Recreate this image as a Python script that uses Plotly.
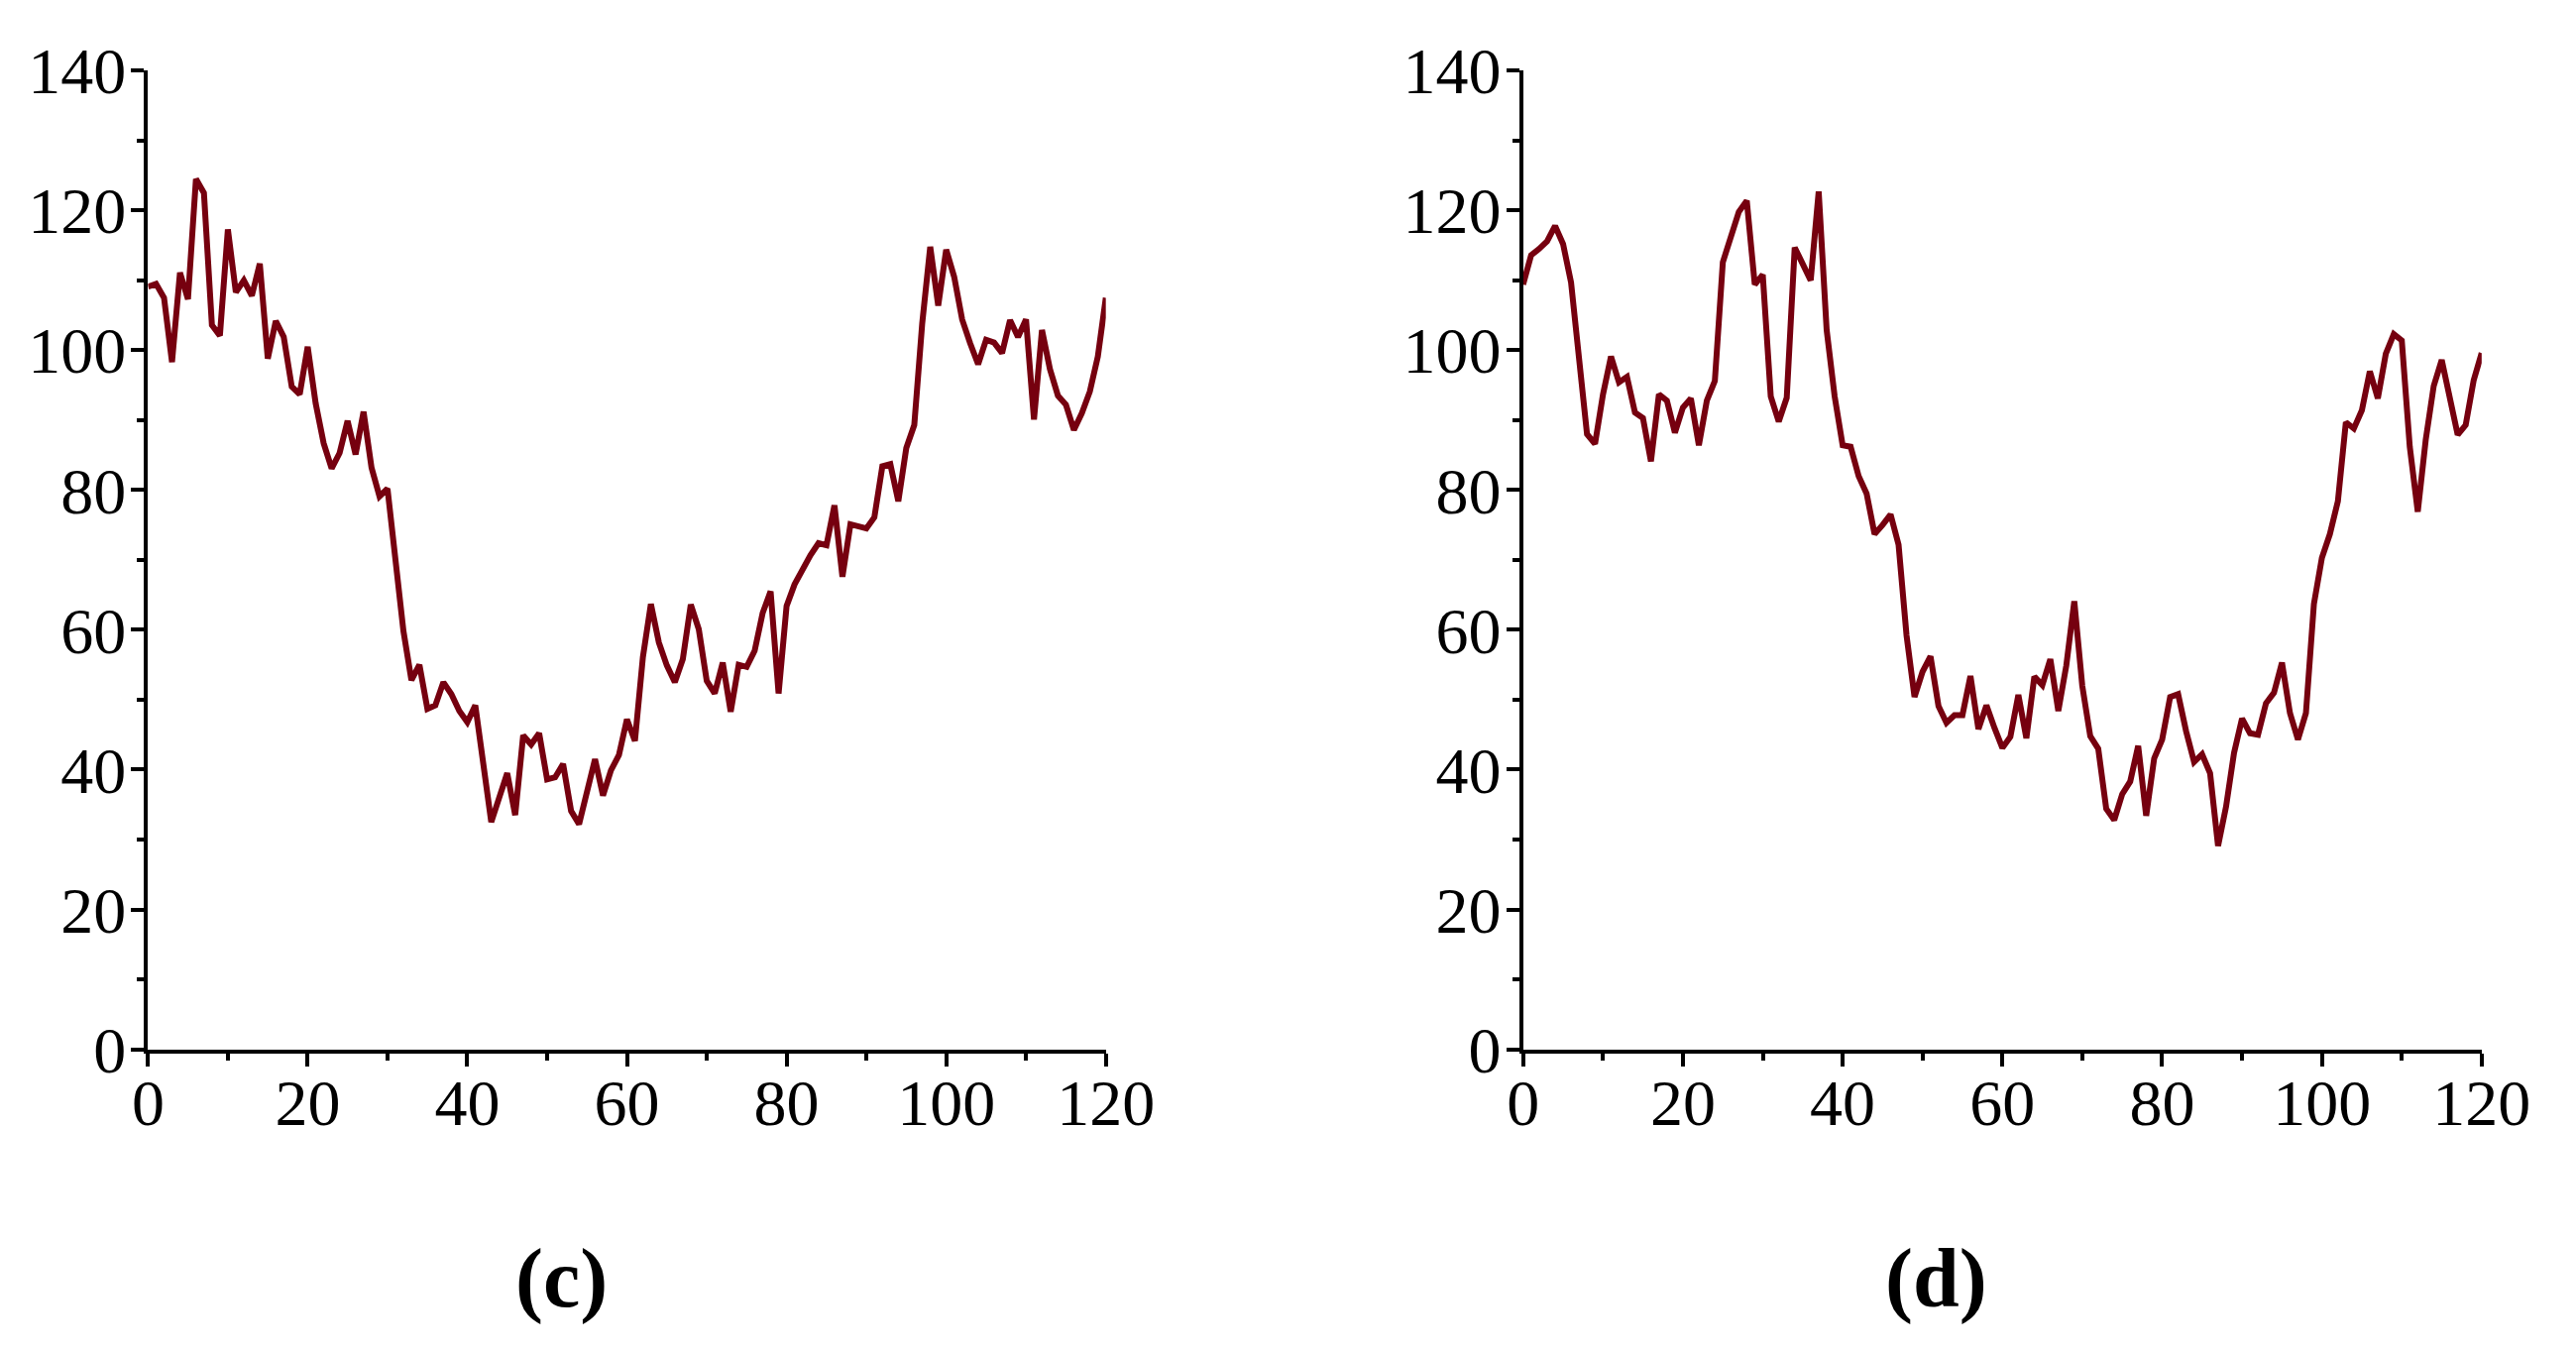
import plotly.graph_objects as go

# time steps 0..120
t = list(range(121))

# panel (c)
series_c = [
    109.1, 109.5, 107.5, 98.3, 111.1, 107.3, 124.5, 122.5, 103.6, 102.1,
    117.3, 108.3, 110.0, 107.8, 112.4, 98.8, 104.2, 101.9, 94.8, 93.7,
    100.5, 92.4, 86.7, 83.1, 85.3, 89.9, 85.1, 91.2, 83.2, 79.1,
    80.2, 69.9, 59.8, 52.8, 55.0, 48.7, 49.2, 52.5, 50.8, 48.4,
    46.8, 49.2, 40.8, 32.5, 36.0, 39.5, 33.5, 44.9, 43.6, 45.2,
    38.6, 38.9, 40.8, 34.1, 32.2, 36.7, 41.5, 36.3, 39.9, 42.1,
    47.2, 44.1, 56.1, 63.7, 58.2, 54.9, 52.5, 55.8, 63.6, 60.1,
    52.7, 50.9, 55.3, 48.3, 55.0, 54.7, 57.0, 62.4, 65.5, 50.9,
    63.4, 66.5, 68.8, 70.7, 72.4, 72.1, 77.8, 67.6, 75.1, 74.8,
    74.5, 76.1, 83.4, 83.7, 78.4, 86.0, 89.3, 103.9, 114.8, 106.4,
    114.4, 110.5, 104.4, 101.0, 98.0, 101.5, 101.1, 99.6, 104.3, 101.9,
    104.4, 90.1, 102.9, 97.3, 93.5, 92.2, 88.6, 91.0, 94.1, 99.1,
    107.5,
]

# panel (d)
series_d = [
    109.4, 113.6, 114.5, 115.6, 117.8, 115.2, 109.7, 98.1, 88.0, 86.6,
    93.7, 99.1, 95.4, 96.2, 91.1, 90.3, 84.1, 93.7, 92.8, 88.2,
    91.8, 93.1, 86.4, 92.8, 95.6, 112.6, 115.9, 119.8, 121.4, 109.4,
    110.8, 93.4, 89.8, 93.2, 114.7, 112.3, 110.0, 122.7, 102.9, 93.4,
    86.4, 86.2, 82.0, 79.5, 73.7, 75.0, 76.5, 72.2, 59.2, 50.4,
    54.0, 56.2, 49.1, 46.7, 47.8, 47.8, 53.4, 45.8, 49.2, 46.0,
    43.1, 44.7, 50.7, 44.5, 53.3, 52.1, 55.8, 48.4, 54.9, 64.1,
    52.0, 44.8, 43.0, 34.4, 32.8, 36.5, 38.3, 43.4, 33.4, 41.6,
    44.3, 50.4, 50.8, 45.5, 41.1, 42.2, 39.5, 29.1, 34.7, 42.4,
    47.3, 45.2, 45.0, 49.5, 51.0, 55.3, 48.1, 44.3, 48.1, 63.7,
    70.3, 73.7, 78.4, 89.7, 88.8, 91.4, 97.0, 93.1, 99.5, 102.3,
    101.4, 86.2, 76.9, 87.2, 94.9, 98.6, 93.4, 87.9, 89.3, 95.7,
    99.6,
]

panel_labels = ["(c)", "(d)"]

LINE_COLOR = "#76000F"
FONT = "Liberation Serif"

fig = go.Figure()
fig.add_trace(go.Scatter(x=t, y=series_c, mode="lines", xaxis="x", yaxis="y",
                         line=dict(color=LINE_COLOR, width=6)))
fig.add_trace(go.Scatter(x=t, y=series_d, mode="lines", xaxis="x2", yaxis="y2",
                         line=dict(color=LINE_COLOR, width=6)))

y_dom = [0.2298, 0.9536]
x_doms = [[0.0544, 0.4262], [0.5882, 0.9603]]
label_x = [0.2150, 0.7485]


def xaxis(dom, anchor):
    return dict(domain=dom, anchor=anchor, range=[0, 120], tickvals=[0, 20, 40, 60, 80, 100, 120],
                showline=True, linewidth=4, linecolor="black", showgrid=False, zeroline=False,
                ticks="outside", ticklen=13, tickwidth=4, tickcolor="black", automargin=False,
                minor=dict(tickvals=[10, 30, 50, 70, 90, 110], ticks="outside", ticklen=7,
                           tickwidth=4, tickcolor="black", showgrid=False),
                tickfont=dict(family=FONT, size=66, color="black"), ticklabelstandoff=-20)


def yaxis(anchor):
    return dict(domain=y_dom, anchor=anchor, range=[0, 140], tickvals=[0, 20, 40, 60, 80, 100, 120, 140],
                showline=True, linewidth=4, linecolor="black", showgrid=False, zeroline=False,
                ticks="outside", ticklen=13, tickwidth=4, tickcolor="black", automargin=False,
                minor=dict(tickvals=[10, 30, 50, 70, 90, 110, 130], ticks="outside", ticklen=7,
                           tickwidth=4, tickcolor="black", showgrid=False),
                tickfont=dict(family=FONT, size=66, color="black"), ticklabelstandoff=-8)


fig.update_layout(
    width=2599, height=1364,
    margin=dict(l=0, r=0, t=0, b=0),
    paper_bgcolor="white", plot_bgcolor="white",
    showlegend=False,
    xaxis=xaxis(x_doms[0], "y"),
    yaxis=yaxis("x"),
    xaxis2=xaxis(x_doms[1], "y2"),
    yaxis2=yaxis("x2"),
)

for lx, label in zip(label_x, panel_labels):
    fig.add_annotation(x=lx, y=0.060, xref="paper", yref="paper",
                       text=f"<b>{label}</b>", showarrow=False, xanchor="center", yanchor="middle",
                       font=dict(family=FONT, size=84, color="black"))

fig.write_html("out.html")
